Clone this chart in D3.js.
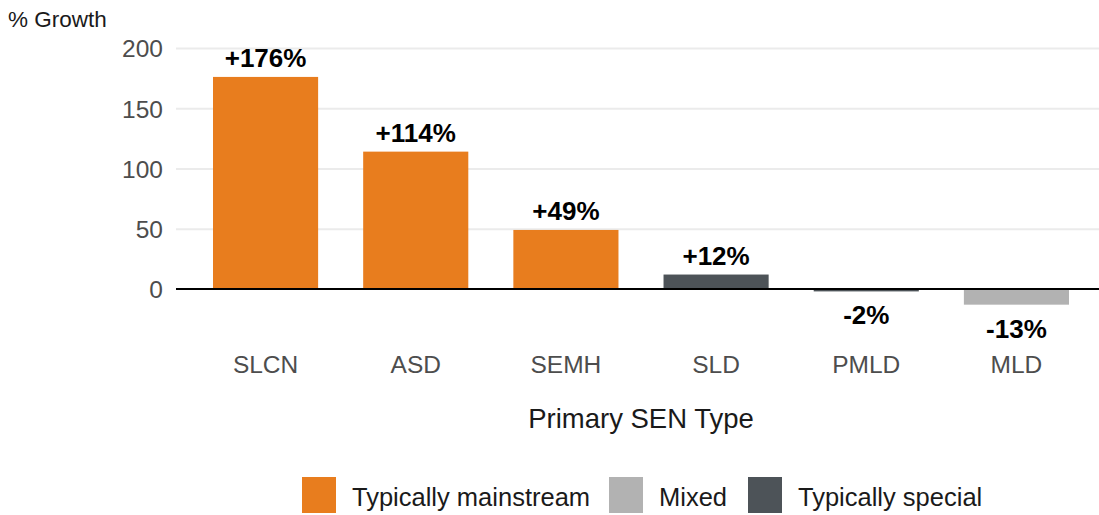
<!DOCTYPE html>
<html>
<head>
<meta charset="utf-8">
<script src="https://cdn.jsdelivr.net/npm/d3@7"></script>
<style>
  html, body { margin: 0; padding: 0; background: #fff; }
  svg { display: block; font-family: "Liberation Sans", Arial, sans-serif; }
</style>
</head>
<body>
<svg id="chart" width="1099" height="515"></svg>
<script>
// SEN types and their growth (%)
const categories = ["SLCN", "ASD", "SEMH", "SLD", "PMLD", "MLD"];
const growth = [176, 114, 49, 12, -2, -13];
const provision = ["Typically mainstream", "Typically mainstream", "Typically mainstream",
                   "Typically special", "Typically special", "Mixed"];
const groups = ["Typically mainstream", "Mixed", "Typically special"];
const groupColors = ["#E87D1E", "#B2B2B2", "#4D5358"];
const yTicks = [0, 50, 100, 150, 200];

const svg = d3.select("#chart");

const x = d3.scaleBand().domain(categories).range([213, 1069]).paddingInner(0.3).paddingOuter(0);
const y = d3.scaleLinear().domain([0, 200]).range([289, 48]);
const color = d3.scaleOrdinal().domain(groups).range(groupColors);

// horizontal gridlines and y tick labels
const yAxis = svg.append("g")
  .attr("transform", "translate(176,0)")
  .call(d3.axisLeft(y).tickValues(yTicks).tickSize(-923).tickPadding(13));
yAxis.select(".domain").remove();
yAxis.selectAll(".tick line").attr("stroke", "#ebebeb").attr("stroke-width", 2)
  .filter(d => d === 0).remove();
yAxis.selectAll(".tick text")
  .attr("fill", "#4d4d4d").attr("font-size", 24.5).attr("dy", "0.36em");

// bars
const data = categories.map((c, i) => ({ cat: c, v: growth[i], grp: provision[i] }));
svg.append("g").selectAll("rect").data(data).join("rect")
  .attr("x", d => x(d.cat))
  .attr("width", x.bandwidth())
  .attr("y", d => y(Math.max(0, d.v)))
  .attr("height", d => Math.abs(y(d.v) - y(0)))
  .attr("fill", d => color(d.grp));

// zero line
svg.append("line")
  .attr("x1", 176).attr("x2", 1099)
  .attr("y1", y(0)).attr("y2", y(0))
  .attr("stroke", "#000").attr("stroke-width", 2);

// value labels
svg.append("g").selectAll("text").data(data).join("text")
  .attr("x", d => x(d.cat) + x.bandwidth() / 2)
  .attr("y", d => d.v >= 0 ? y(d.v) - 10 : y(d.v) + 33)
  .attr("text-anchor", "middle")
  .attr("font-size", 26).attr("font-weight", "bold").attr("fill", "#000")
  .text(d => (d.v > 0 ? "+" : "") + d.v + "%");

// category labels
const xAxis = svg.append("g")
  .attr("transform", "translate(0,364)")
  .call(d3.axisBottom(x).tickSize(0).tickPadding(0));
xAxis.select(".domain").remove();
xAxis.selectAll(".tick text")
  .attr("fill", "#4d4d4d").attr("font-size", 24.5).attr("dy", "0.36em");

// axis titles
svg.append("text").attr("x", 641).attr("y", 428)
  .attr("text-anchor", "middle").attr("font-size", 27.5).attr("fill", "#1a1a1a")
  .text("Primary SEN Type");
svg.append("text").attr("x", 8).attr("y", 27)
  .attr("font-size", 22.5).attr("fill", "#1a1a1a")
  .text("% Growth");

// legend
const legendX = [302, 609, 748];
const legend = svg.append("g").selectAll("g").data(groups).join("g")
  .attr("transform", (d, i) => `translate(${legendX[i]},477)`);
legend.append("rect").attr("width", 34).attr("height", 36).attr("fill", d => color(d));
legend.append("text").attr("x", 50).attr("y", 29)
  .attr("font-size", 25.5).attr("fill", "#1a1a1a").text(d => d);
</script>
</body>
</html>
